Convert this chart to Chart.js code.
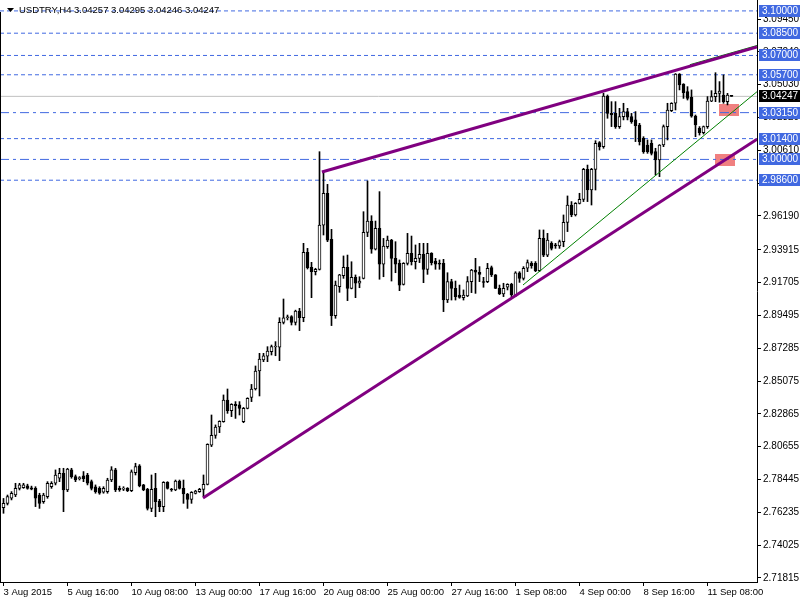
<!DOCTYPE html>
<html>
<head>
<meta charset="utf-8">
<title>USDTRY,H4</title>
<script src="https://cdn.jsdelivr.net/npm/chart.js@4.4.0/dist/chart.umd.min.js"></script>
<style>
  html, body { margin: 0; padding: 0; background: #fff; }
  canvas { display: block; }
</style>
</head>
<body>
<canvas id="chart" width="800" height="600"></canvas>
<script>
/* ---------- data (H4 bars) ---------- */
const opens = [
  2.7655,2.7684,2.7718,2.7740,2.7785,2.7790,2.7802,2.7789,2.7785,2.7740,
  2.7695,2.7729,2.7796,2.7819,2.7853,2.7886,2.7774,2.7909,2.7864,2.7850,
  2.7870,2.7875,2.7830,2.7796,2.7785,2.7760,2.7763,2.7841,2.7909,2.7785,
  2.7780,2.7785,2.7769,2.7891,2.7936,2.7808,2.7778,2.7650,2.7785,2.7700,
  2.7662,2.7826,2.7776,2.7774,2.7834,2.7785,2.7747,2.7711,2.7751,2.7763,
  2.7778,2.7812,2.8075,2.8142,2.8198,2.8234,2.8380,2.8308,2.8351,2.8347,
  2.8234,2.8324,2.8398,2.8454,2.8575,2.8649,2.8675,2.8705,2.8737,2.8735,
  2.8903,2.8934,2.8941,2.8903,2.8979,2.8934,2.9374,2.9273,2.9244,2.9260,
  2.9558,2.9772,2.9462,2.8948,2.9143,2.9217,2.9273,2.9132,2.9206,2.9166,
  2.9199,2.9509,2.9585,2.9395,2.9536,2.9294,2.9413,2.9457,2.9334,2.9300,
  2.9159,2.9300,2.9368,2.9312,2.9334,2.9361,2.9260,2.9368,2.9316,2.9300,
  2.9300,2.9053,2.9177,2.9132,2.9087,2.9069,2.9080,2.9177,2.9255,2.9240,
  2.9173,2.9177,2.9271,2.9222,2.9132,2.9094,2.9139,2.9159,2.9080,2.9237,
  2.9199,2.9267,2.9301,2.9301,2.9251,2.9469,2.9356,2.9435,2.9422,2.9417,
  2.9446,2.9576,2.9693,2.9626,2.9704,2.9731,2.9933,2.9794,2.9933,3.0113,
  3.0086,3.0427,3.0310,3.0310,3.0221,3.0288,3.0322,3.0288,3.0266,3.0232,
  3.0142,3.0097,3.0108,3.0052,2.9996,3.0097,3.0221,3.0328,3.0378,3.0575,
  3.0508,3.0456,3.0418,3.0292,3.0209,3.0180,3.0221,3.0393,3.0423,3.0445,
  3.0434,3.0389,3.04257
];
const highs = [
  2.7717,2.7740,2.7763,2.7819,2.7819,2.7819,2.7813,2.7800,2.7796,2.7752,
  2.7752,2.7830,2.7830,2.7909,2.7920,2.7920,2.7920,2.7920,2.7875,2.7864,
  2.7898,2.7886,2.7841,2.7808,2.7796,2.7796,2.7853,2.7931,2.7920,2.7800,
  2.7796,2.7790,2.7909,2.7954,2.7945,2.7812,2.7785,2.7875,2.7886,2.7711,
  2.7830,2.7830,2.7785,2.7841,2.7841,2.7841,2.7751,2.7763,2.7772,2.7785,
  2.7875,2.8085,2.8279,2.8212,2.8240,2.8414,2.8454,2.8355,2.8369,2.8369,
  2.8330,2.8395,2.8485,2.8609,2.8694,2.8694,2.8739,2.8750,2.8773,2.8934,
  2.9060,2.8952,2.8948,2.8985,2.8997,2.9435,2.9401,2.9307,2.9267,3.0052,
  2.9917,2.9832,2.9529,2.9181,2.9226,2.9350,2.9356,2.9311,2.9222,2.9210,
  2.9648,2.9855,2.9621,2.9585,2.9783,2.9468,2.9484,2.9462,2.9446,2.9323,
  2.9305,2.9502,2.9484,2.9424,2.9435,2.9435,2.9435,2.9372,2.9334,2.9323,
  2.9327,2.9237,2.9193,2.9181,2.9154,2.9121,2.9211,2.9260,2.9334,2.9278,
  2.9206,2.9300,2.9282,2.9225,2.9154,2.9166,2.9163,2.9166,2.9244,2.9244,
  2.9278,2.9323,2.9312,2.9312,2.9525,2.9525,2.9502,2.9446,2.9435,2.9457,
  2.9626,2.9754,2.9716,2.9709,2.9772,2.9940,2.9962,2.9940,3.0126,3.0120,
  3.0445,3.0434,3.0389,3.0389,3.0344,3.0378,3.0344,3.0310,3.0322,3.0243,
  3.0153,3.0131,3.0131,3.0075,3.0100,3.0232,3.0378,3.0382,3.0578,3.0578,
  3.0510,3.0490,3.0468,3.0299,3.0221,3.0225,3.0423,3.0463,3.0584,3.0524,
  3.0569,3.0445,3.04295
];
const lows = [
  2.7617,2.7673,2.7707,2.7729,2.7774,2.7785,2.7779,2.7775,2.7662,2.7650,
  2.7684,2.7718,2.7785,2.7808,2.7830,2.7628,2.7763,2.7853,2.7830,2.7841,
  2.7830,2.7808,2.7774,2.7752,2.7745,2.7752,2.7752,2.7830,2.7763,2.7765,
  2.7770,2.7763,2.7763,2.7875,2.7795,2.7769,2.7639,2.7628,2.7594,2.7628,
  2.7628,2.7780,2.7765,2.7769,2.7780,2.7684,2.7650,2.7684,2.7747,2.7758,
  2.7729,2.7808,2.8066,2.8122,2.8160,2.8230,2.8290,2.8268,2.8256,2.8279,
  2.8227,2.8320,2.8369,2.8447,2.8407,2.8638,2.8638,2.8683,2.8678,2.8645,
  2.8892,2.8919,2.8885,2.8885,2.8847,2.8907,2.9262,2.9069,2.9222,2.9255,
  2.9491,2.9446,2.8881,2.8930,2.9105,2.9199,2.9049,2.9128,2.9069,2.9136,
  2.9195,2.9480,2.9368,2.9390,2.9193,2.9210,2.9401,2.9181,2.9237,2.9116,
  2.9154,2.9289,2.9289,2.9262,2.9305,2.9170,2.9226,2.9289,2.9260,2.9260,
  2.8975,2.9036,2.9053,2.9053,2.9065,2.9053,2.9076,2.9103,2.9098,2.9177,
  2.9139,2.9170,2.9211,2.9130,2.9090,2.9076,2.9121,2.9076,2.9076,2.9172,
  2.9188,2.9244,2.9267,2.9244,2.9244,2.9345,2.9345,2.9390,2.9401,2.9401,
  2.9412,2.9514,2.9614,2.9619,2.9700,2.9716,2.9716,2.9693,2.9794,3.0063,
  3.0075,3.0277,3.0221,3.0209,3.0209,3.0266,3.0266,3.0243,3.0120,3.0097,
  3.0041,3.0041,3.0030,2.9895,2.9884,3.0086,3.0131,3.0322,3.0333,3.0468,
  3.0411,3.0400,3.0284,3.0153,3.0164,3.0171,3.0209,3.0389,3.0389,3.0385,
  3.0378,3.0367,3.04246
];
const closes = [
  2.7684,2.7729,2.7752,2.7785,2.7808,2.7808,2.7785,2.7780,2.7718,2.7684,
  2.7740,2.7819,2.7819,2.7875,2.7886,2.7774,2.7915,2.7864,2.7841,2.7855,
  2.7850,2.7819,2.7785,2.7763,2.7752,2.7785,2.7841,2.7909,2.7774,2.7776,
  2.7785,2.7769,2.7897,2.7931,2.7801,2.7774,2.7650,2.7778,2.7695,2.7662,
  2.7826,2.7785,2.7774,2.7834,2.7785,2.7747,2.7711,2.7758,2.7767,2.7778,
  2.7812,2.8081,2.8142,2.8198,2.8236,2.8380,2.8308,2.8351,2.8342,2.8324,
  2.8324,2.8391,2.8454,2.8575,2.8656,2.8678,2.8710,2.8739,2.8739,2.8903,
  2.8934,2.8936,2.8903,2.8979,2.8934,2.9374,2.9271,2.9244,2.9260,2.9558,
  2.9772,2.9457,2.8948,2.9154,2.9222,2.9273,2.9132,2.9206,2.9166,2.9181,
  2.9509,2.9585,2.9395,2.9536,2.9294,2.9417,2.9457,2.9334,2.9294,2.9154,
  2.9300,2.9368,2.9312,2.9334,2.9361,2.9260,2.9368,2.9305,2.9294,2.9294,
  2.9053,2.9177,2.9132,2.9076,2.9071,2.9087,2.9177,2.9255,2.9240,2.9226,
  2.9171,2.9267,2.9222,2.9132,2.9094,2.9132,2.9159,2.9087,2.9237,2.9199,
  2.9267,2.9305,2.9285,2.9251,2.9469,2.9356,2.9457,2.9401,2.9418,2.9446,
  2.9576,2.9693,2.9626,2.9704,2.9731,2.9933,2.9794,2.9933,3.0108,3.0086,
  3.0427,3.0310,3.0299,3.0221,3.0288,3.0322,3.0284,3.0254,3.0227,3.0120,
  3.0052,3.0052,3.0041,2.9996,3.0097,3.0221,3.0333,3.0378,3.0575,3.0501,
  3.0450,3.0411,3.0292,3.0232,3.0180,3.0221,3.0393,3.0423,3.0445,3.0461,
  3.0389,3.0434,3.04247
];

// time axis: a label every 16 bars
const timeTickBars = [0, 16, 32, 48, 64, 80, 96, 112, 128, 144, 160, 176];
const timeTickLabels = [
  "3 Aug 2015", "5 Aug 16:00", "10 Aug 08:00", "13 Aug 00:00", "17 Aug 16:00", "20 Aug 08:00",
  "25 Aug 00:00", "27 Aug 16:00", "1 Sep 08:00", "4 Sep 00:00", "8 Sep 16:00", "11 Sep 08:00"
];

// price axis ticks
const priceTicks = [
  3.09450, 3.07240, 3.05030, 3.02820, 3.00610, 2.98400, 2.96190, 2.93915, 2.91705,
  2.89495, 2.87285, 2.85075, 2.82865, 2.80655, 2.78445, 2.76235, 2.74025, 2.71815
];

// horizontal levels
const dashLevels = [3.10000, 3.08500, 3.07000, 3.05700, 3.01400, 2.98600];
const dashDotLevels = [3.03150, 3.00000];
const bidPrice = 3.04247;
const symbolTitle = "USDTRY,H4 3.04257 3.04295 3.04246 3.04247";

// trend lines: [bar, price] pairs
const upperTrend = [[79.6, 2.99153], [188.375, 3.07573]];
const lowerTrend = [[49.875, 2.77200], [188.375, 3.01354]];
const greenTrend = [[129.875, 2.91544], [188.375, 3.04560]];
const greenUpper = [[171.6, 3.06379], [188.375, 3.07671]];

// shaded zones (bars from/to, price low/high)
const zoneFrom = [178.9, 177.9];
const zoneTo = [183.9, 182.9];
const zoneLow = [3.02877, 2.99510];
const zoneHigh = [3.03712, 3.00345];

/* ---------- chart ---------- */
const X_MIN = -0.875, X_MAX = 188.375;
const Y_MIN = 2.71543, Y_MAX = 3.10735;
const FONT = '"Liberation Sans", Arial, sans-serif';
const LEVEL_BLUE = "#4169e1";

const idx = opens.map((_, i) => i);
const wickData = idx.map(i => ({ x: i, y: [lows[i], highs[i]] }));
const bodyData = idx.map(i => ({ x: i, y: [opens[i], closes[i]] }));
const bodyFill = idx.map(i => closes[i] >= opens[i] ? "#ffffff" : "#000000");

function levelLine(v, dash, color) {
  return {
    type: "line",
    data: [{ x: X_MIN, y: v }, { x: X_MAX, y: v }],
    borderColor: color,
    borderWidth: 1,
    borderDash: dash,
    pointRadius: 0,
    fill: false,
    order: 5
  };
}

function trendLine(pts, color, width) {
  return {
    type: "line",
    data: pts.map(p => ({ x: p[0], y: p[1] })),
    borderColor: color,
    borderWidth: width,
    pointRadius: 0,
    fill: false,
    order: 0
  };
}

const overlays = {
  id: "overlays",
  beforeDatasetsDraw(chart) {
    const { ctx, chartArea: a, scales: { x, y } } = chart;
    ctx.save();
    ctx.beginPath();
    ctx.rect(a.left, a.top, a.width, a.height);
    ctx.clip();
    ctx.fillStyle = "#f08080";
    zoneFrom.forEach((b, k) => {
      const x0 = x.getPixelForValue(b), x1 = x.getPixelForValue(zoneTo[k]);
      const y0 = y.getPixelForValue(zoneHigh[k]), y1 = y.getPixelForValue(zoneLow[k]);
      ctx.fillRect(Math.round(x0), Math.round(y0), Math.round(x1 - x0), Math.round(y1 - y0));
    });
    ctx.restore();
  },
  afterDraw(chart) {
    const { ctx, chartArea: a, scales: { y } } = chart;
    ctx.save();

    // left frame
    ctx.strokeStyle = "#000";
    ctx.lineWidth = 1;
    ctx.beginPath();
    ctx.moveTo(0.5, 12);
    ctx.lineTo(0.5, a.bottom);
    ctx.stroke();

    // price tags on the axis
    ctx.font = "10px " + FONT;
    ctx.textBaseline = "middle";
    ctx.textAlign = "left";
    const tag = (v, bg) => {
      const py = Math.round(y.getPixelForValue(v));
      ctx.fillStyle = bg;
      ctx.fillRect(759, py - 6, 41, 12);
      ctx.fillStyle = "#fff";
      ctx.fillText(v.toFixed(5), 762, py + 0.5);
    };
    dashLevels.concat(dashDotLevels).forEach(v => tag(v, LEVEL_BLUE));
    tag(bidPrice, "#000");

    // title with the small triangle
    ctx.fillStyle = "#000";
    ctx.beginPath();
    ctx.moveTo(7, 8);
    ctx.lineTo(14, 8);
    ctx.lineTo(10.5, 12);
    ctx.closePath();
    ctx.fill();
    ctx.font = "9.5px " + FONT;
    ctx.fillText(symbolTitle, 19, 10.5);

    ctx.restore();
  }
};

const datasets = [
  trendLine(upperTrend, "#800080", 3),
  trendLine(lowerTrend, "#800080", 3),
  trendLine(greenTrend, "#008000", 1),
  trendLine(greenUpper, "#008000", 1),
  {
    type: "bar",
    data: bodyData,
    backgroundColor: bodyFill,
    borderColor: "#000",
    borderWidth: 1,
    borderSkipped: false,
    barThickness: 3,
    minBarLength: 1,
    grouped: false,
    order: 2
  },
  {
    type: "bar",
    data: wickData,
    backgroundColor: "#000",
    borderWidth: 0,
    barThickness: 1,
    minBarLength: 1,
    grouped: false,
    order: 3
  },
  levelLine(bidPrice, [], "#c0c0c0")
];
dashLevels.forEach(v => datasets.push(levelLine(v, [4, 3], LEVEL_BLUE)));
dashDotLevels.forEach(v => datasets.push(levelLine(v, [9, 4, 3, 4], LEVEL_BLUE)));

new Chart(document.getElementById("chart"), {
  type: "bar",
  data: { datasets },
  options: {
    responsive: false,
    animation: false,
    events: [],
    layout: { padding: 0 },
    plugins: { legend: { display: false }, tooltip: { enabled: false } },
    scales: {
      x: {
        type: "linear",
        min: X_MIN,
        max: X_MAX,
        offset: false,
        grid: { offset: false, drawOnChartArea: false, drawTicks: true, tickLength: 4, color: "#000" },
        border: { display: true, color: "#000" },
        ticks: {
          autoSkip: false,
          maxRotation: 0,
          align: "start",
          padding: 1,
          color: "#000",
          font: { family: FONT, size: 9.5 },
          callback: v => {
            const k = timeTickBars.indexOf(v);
            return k >= 0 ? timeTickLabels[k] : "";
          }
        },
        afterBuildTicks: s => { s.ticks = timeTickBars.map(v => ({ value: v })); },
        afterFit: s => { s.height = 18; s.paddingLeft = 0; s.paddingRight = 0; }
      },
      y: {
        type: "linear",
        position: "right",
        min: Y_MIN,
        max: Y_MAX,
        grid: { drawOnChartArea: false, drawTicks: true, tickLength: 4, color: "#000" },
        border: { display: true, color: "#000" },
        ticks: {
          padding: 2,
          color: "#000",
          font: { family: FONT, size: 10 },
          callback: v => Number(v).toFixed(5)
        },
        afterBuildTicks: s => { s.ticks = priceTicks.map(v => ({ value: v })); },
        afterFit: s => { s.width = 43; s.paddingTop = 0; s.paddingBottom = 0; }
      }
    }
  },
  plugins: [overlays]
});
</script>
</body>
</html>
